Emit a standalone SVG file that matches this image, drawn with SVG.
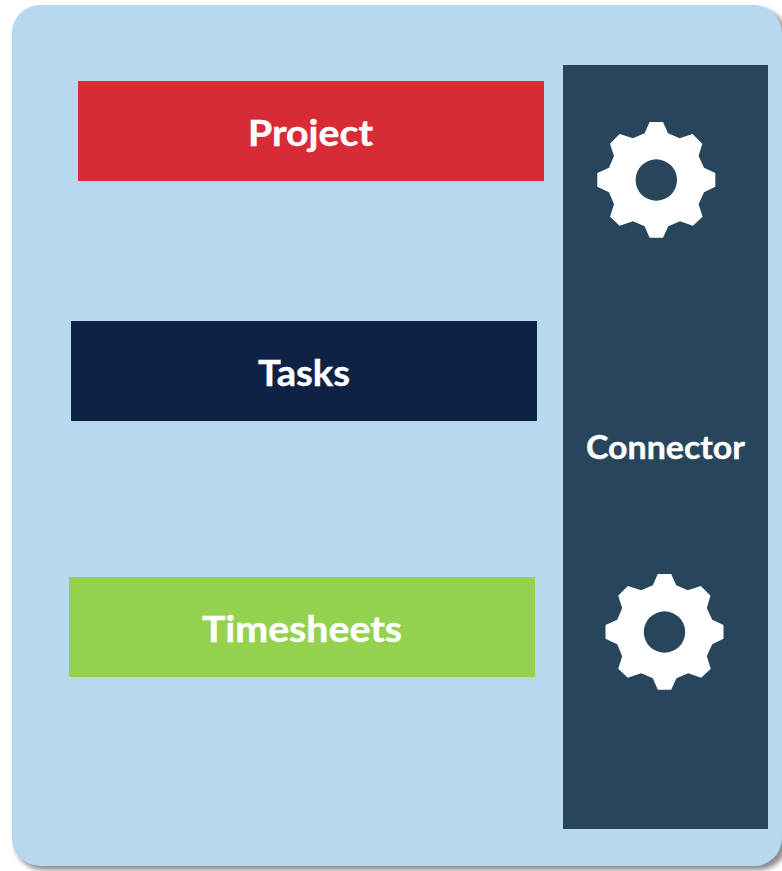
<svg xmlns="http://www.w3.org/2000/svg" width="782" height="871" viewBox="0 0 782 871">
<style>
.label{font-family:Lato,"Open Sans","Liberation Sans",sans-serif;font-weight:700;fill:#fff;stroke:#fff;stroke-width:.4px;text-anchor:middle}
.big{font-size:36px}
.small{font-size:32px}
</style>
<defs>
<filter id="sh" x="-5%" y="-5%" width="110%" height="110%"><feGaussianBlur stdDeviation="2.500"/></filter>
<path id="gear" fill="#fff" fill-rule="evenodd" d="M-6.7-58L6.7-58L11.7-46.7L23.3-41.7L36.3-46L46-36.3L42.3-24L47.7-12.3L59-7L59 6.7L47.7 12.3L42.3 24.3L46.3 36.7L36.7 45.7L23.7 41.3L12 46.3L6.7 57.7L-6.7 57.7L-11.7 46.3L-23.3 41.3L-36.7 45.7L-46.3 36.7L-42.3 24.3L-47.3 12.3L-59 6.7L-59-7L-47.3-12.3L-42.3-24L-46.3-36.3L-36.7-46L-23.3-41.7L-11.7-46.7ZM20.7 0A20.7 20.7 0 1 0-20.7 0A20.7 20.7 0 1 0 20.7 0Z"/>
</defs>
<rect width="782" height="871" fill="#fff"/>
<g id="card">
<rect x="15" y="9" width="772" height="861" rx="28" fill="#8c8c8c" filter="url(#sh)"/>
<rect x="12" y="5" width="770" height="861" rx="28" fill="#b8d8ee"/>
</g>
<g id="connectors"/>
<g id="project"><rect x="78" y="81" width="466" height="100" fill="#d92b35"/><text class="label big" x="310.500" y="145.500" textLength="125" lengthAdjust="spacingAndGlyphs">Project</text></g>
<g id="tasks"><rect x="71" y="321" width="466" height="100" fill="#0e2245"/><text class="label big" x="304" y="385.500" textLength="92" lengthAdjust="spacingAndGlyphs">Tasks</text></g>
<g id="timesheets"><rect x="69" y="577" width="466" height="100" fill="#94d14f"/><text class="label big" x="302" y="641.500" textLength="200" lengthAdjust="spacingAndGlyphs">Timesheets</text></g>
<g id="connector"><rect x="563" y="65" width="205" height="764" fill="#27465c"/><text class="label small" x="665.500" y="459" textLength="159" lengthAdjust="spacingAndGlyphs">Connector</text>
<use href="#gear" x="656.300" y="180"/><use href="#gear" x="664.500" y="632"/></g>
</svg>
